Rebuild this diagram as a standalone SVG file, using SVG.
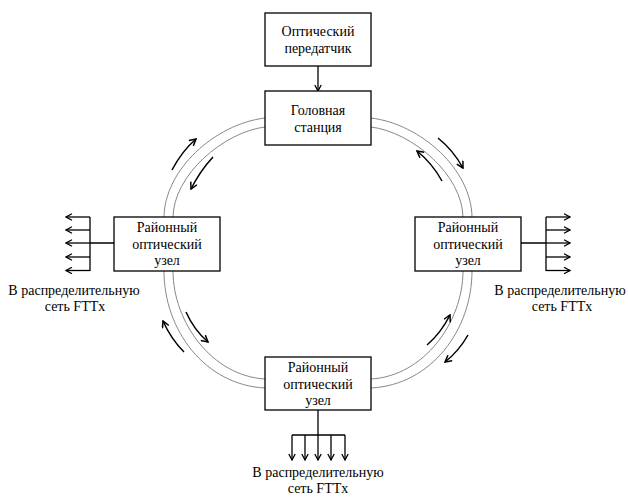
<svg xmlns="http://www.w3.org/2000/svg" width="628" height="497" viewBox="0 0 628 497">
<defs>
<style>
.box{fill:#fff;stroke:#000;stroke-width:1.3}
.ring{fill:none;stroke:#888;stroke-width:1}
.ln{fill:none;stroke:#000;stroke-width:1.3}
.arr{fill:none;stroke:#000;stroke-width:1.3;marker-end:url(#ah)}
.carr{fill:none;stroke:#000;stroke-width:1.5;marker-end:url(#ch)}
</style>
<marker id="ah" viewBox="0 0 8 8" refX="7" refY="4" markerWidth="8" markerHeight="8" markerUnits="userSpaceOnUse" orient="auto">
<path d="M1,0.8 L7,4 L1,7.2" fill="none" stroke="#000" stroke-width="1.3"/>
</marker>
<marker id="ch" viewBox="0 0 8 8" refX="7" refY="4" markerWidth="8" markerHeight="8" markerUnits="userSpaceOnUse" orient="auto">
<path d="M0.5,0.5 L7,4 L0.5,7.5" fill="none" stroke="#000" stroke-width="1.5"/>
</marker>
</defs>

<g id="connectors">
<path class="ring" d="M265,118 C215,124 164,170 164,218"/>
<path class="ring" d="M265,127 C224,132 173,175 173,218"/>
<path class="ring" d="M371,118 C421,124 472,170 472,218"/>
<path class="ring" d="M371,127 C412,132 463,175 463,218"/>
<path class="ring" d="M164,271 C164,330 205,385 265,388"/>
<path class="ring" d="M173,271 C173,322 212,376 265,379"/>
<path class="ring" d="M472,271 C472,330 431,385 371,388"/>
<path class="ring" d="M463,271 C463,322 424,376 371,379"/>

<path class="carr" d="M172,170 Q182,151 196,139"/>
<path class="carr" d="M213,157 Q200,171 191,189"/>
<path class="carr" d="M438,138 Q453,150 463,168"/>
<path class="carr" d="M442,181 Q432,163 417,151"/>
<path class="carr" d="M184,352 Q171,339 163,321"/>
<path class="carr" d="M186,312 Q194,330 208,342"/>
<path class="carr" d="M427,345 Q441,333 450,315"/>
<path class="carr" d="M468,335 Q459,351 445,362"/>

<path class="arr" d="M318,66 L318,91"/>

<path class="ln" d="M114,243 L90,243 M90,217 L90,271"/>
<path class="arr" d="M90,217 L66,217"/>
<path class="arr" d="M90,230 L66,230"/>
<path class="arr" d="M90,243 L66,243"/>
<path class="arr" d="M90,257 L66,257"/>
<path class="arr" d="M90,270.5 L66,270.5"/>

<path class="ln" d="M521,243 L546,243 M546,217 L546,271"/>
<path class="arr" d="M546,217 L570,217"/>
<path class="arr" d="M546,230 L570,230"/>
<path class="arr" d="M546,243 L570,243"/>
<path class="arr" d="M546,257 L570,257"/>
<path class="arr" d="M546,270.5 L570,270.5"/>

<path class="ln" d="M318,410 L318,435 M292,435 L345,435"/>
<path class="arr" d="M292,435 L292,460"/>
<path class="arr" d="M305,435 L305,460"/>
<path class="arr" d="M318,435 L318,460"/>
<path class="arr" d="M331,435 L331,460"/>
<path class="arr" d="M345,435 L345,460"/>
</g>

<g font-family="Liberation Serif, LiberationSerif, Tinos, Times New Roman, Times, Noto Serif, DejaVu Serif, serif" font-size="14" fill="#000" text-anchor="middle">
<g id="transmitter">
<rect class="box" x="265" y="13" width="106" height="53"/>
<text x="318" y="36">Оптический</text>
<text x="318" y="53">передатчик</text>
</g>

<g id="headend">
<rect class="box" x="265" y="91" width="106" height="54"/>
<text x="318" y="115">Головная</text>
<text x="318" y="132">станция</text>
</g>

<g id="node-left">
<rect class="box" x="114" y="217" width="106" height="54"/>
<text x="167" y="232">Районный</text>
<text x="167" y="249">оптический</text>
<text x="167" y="265">узел</text>
</g>

<g id="node-right">
<rect class="box" x="415" y="217" width="106" height="54"/>
<text x="468" y="232">Районный</text>
<text x="468" y="249">оптический</text>
<text x="468" y="265">узел</text>
</g>

<g id="node-bottom">
<rect class="box" x="265" y="357" width="106" height="53"/>
<text x="318" y="372">Районный</text>
<text x="318" y="389">оптический</text>
<text x="318" y="405">узел</text>
</g>

<g id="label-left">
<text x="74" y="295">В распределительную</text>
<text x="75" y="311">сеть FTTx</text>
</g>

<g id="label-right">
<text x="560" y="295">В распределительную</text>
<text x="562" y="311">сеть FTTx</text>
</g>

<g id="label-bottom">
<text x="318" y="477">В распределительную</text>
<text x="318" y="493">сеть FTTx</text>
</g>
</g>
</svg>
